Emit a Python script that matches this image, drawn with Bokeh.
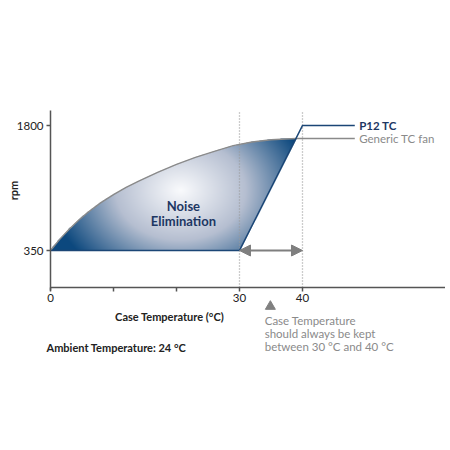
import numpy as np
from bokeh.plotting import figure
from bokeh.models import Range1d, LinearAxis, FixedTicker, Label, Arrow, NormalHead
from bokeh.embed import file_html
from bokeh.resources import INLINE

# ---------------- data ----------------
curve_temp = [0, 1.5, 3, 4.5, 6, 8, 10, 12, 14, 17, 20, 23, 26, 29, 32, 35, 39]
curve_rpm = [350, 482, 599, 704, 797, 905, 999, 1081, 1155, 1257, 1348, 1430, 1500,
             1566, 1608, 1635, 1650]
legend_end_temp = 48.3
p12_temp = [0, 30, 40, legend_end_temp]
p12_rpm = [350, 350, 1800, 1800]
generic_temp = curve_temp + [legend_end_temp]
generic_rpm = curve_rpm + [1650]
band_temps = [30, 40]
x_ticks = [0, 10, 20, 30, 40]
x_tick_labels = {0: "0", 10: "", 20: "", 30: "30", 40: "40"}
y_ticks = [350, 1800]
y_tick_labels = {350: "350", 1800: "1800"}
series_names = ["P12 TC", "Generic TC fan"]

FONT = "Lato"
BLUE = "#1b4676"
NAVY = "#1d3763"
GREY = "#8a8a8a"

p = figure(width=445, height=430, output_backend="svg", toolbar_location=None,
           x_axis_type=None, y_axis_type=None,
           x_range=Range1d(-7.937, 62.70), y_range=Range1d(-1738, 3250),
           min_border=0, outline_line_color=None)
p.grid.visible = False
p.background_fill_color = "white"

# ---------- gradient fill (Noise Elimination area) ----------
W, H = 504, 250
t = (np.arange(W) + 0.5) / W * 40.0
r = 350 + (np.arange(H) + 0.5) / H * 1450.0
T, R = np.meshgrid(t, r)
top = np.interp(T, curve_temp, curve_rpm)
diag_t = band_temps[0] + (R - p12_rpm[1]) / (p12_rpm[2] - p12_rpm[1]) * (band_temps[1] - band_temps[0])
inside = (R <= top) & (T <= diag_t)
tc, rc, rx, ry = 20.6, 1046.0, 20.6, 1160.0
d = np.clip(np.sqrt(((T - tc) / rx) ** 2 + ((R - rc) / ry) ** 2), 0, 1)
stops = [0.0, 0.5, 1.0]
cols = np.array([[250, 251, 253], [182, 191, 209], [12, 72, 126]], dtype=float)
img = np.zeros((H, W), dtype=np.uint32)
view = img.view(dtype=np.uint8).reshape((H, W, 4))
for k in range(3):
    view[:, :, k] = np.interp(d, stops, cols[:, k]).astype(np.uint8)
view[:, :, 3] = np.where(inside, 255, 0).astype(np.uint8)
p.image_rgba(image=[img], x=0, y=350, dw=40, dh=1450)

# ---------- dotted guide lines ----------
axis_lo, axis_hi = -79, 1974
p.segment(x0=band_temps, y0=[axis_lo] * 2, x1=band_temps, y1=[axis_hi] * 2,
          line_color="#9a9a9a", line_width=1.3, line_dash="1 2")

# ---------- series lines ----------
p.line(generic_temp, generic_rpm, line_color=GREY, line_width=1.4)
p.line(p12_temp, p12_rpm, line_color=BLUE, line_width=1.6)

# ---------- double arrow ----------
p.add_layout(Arrow(x_start=band_temps[0], y_start=350, x_end=band_temps[1], y_end=350,
                   line_color="#7f7f7f", line_width=2,
                   start=NormalHead(size=11, fill_color="#7f7f7f", line_color="#7f7f7f"),
                   end=NormalHead(size=11, fill_color="#7f7f7f", line_color="#7f7f7f")))

# ---------- axes ----------
xaxis = LinearAxis(fixed_location=axis_lo, bounds=(0, 62.7),
                   ticker=FixedTicker(ticks=x_ticks), major_label_overrides=x_tick_labels)
yaxis = LinearAxis(fixed_location=0, bounds=(-110, axis_hi),
                   ticker=FixedTicker(ticks=y_ticks), major_label_overrides=y_tick_labels)
for ax in (xaxis, yaxis):
    ax.axis_line_color = "#555555"
    ax.axis_line_width = 1.5
    ax.major_tick_line_color = "#555555"
    ax.major_tick_line_width = 1.5
    ax.major_tick_out = 4
    ax.major_tick_in = 0
    ax.minor_tick_line_color = None
    ax.major_label_text_font = FONT
    ax.major_label_text_font_size = "11.5px"
    ax.major_label_text_color = "#222222"
    ax.major_label_standoff = 3
p.add_layout(xaxis, "below")
p.add_layout(yaxis, "left")

# ---------- texts ----------
def lab(x, y, text, size="11px", color="#222222", style="normal", align="left",
        baseline="middle", angle=0, lh=1.2):
    p.add_layout(Label(x=x, y=y, text=text, text_font=FONT, text_font_size=size,
                       text_color=color, text_font_style=style, text_align=align,
                       text_baseline=baseline, angle=angle, text_line_height=lh))

lab(-5.87, 1046, "rpm", size="11px", style="bold", align="center", angle=np.pi / 2)
lab(21.1, 780, "Noise\nElimination", size="13px", color=NAVY, style="bold",
    align="center", lh=0.95)
lab(49.0, 1800, series_names[0], size="11.5px", color=NAVY, style="bold")
lab(49.0, 1650, series_names[1], size="11.5px", color="#8a8a8a")
lab(18.9, -416, "Case Temperature (°C)", style="bold", align="center")
lab(-0.63, -775, "Ambient Temperature: 24 °C", style="bold")
lab(34.0, -381, "Case Temperature\nshould always be kept\nbetween 30 °C and 40 °C",
    size="11.5px", color="#8a8a8a", baseline="top", lh=1.02)
p.scatter(x=[34.9], y=[-299], marker="triangle", size=10, color="#808080")

open("out.html", "w").write(file_html(p, INLINE))
